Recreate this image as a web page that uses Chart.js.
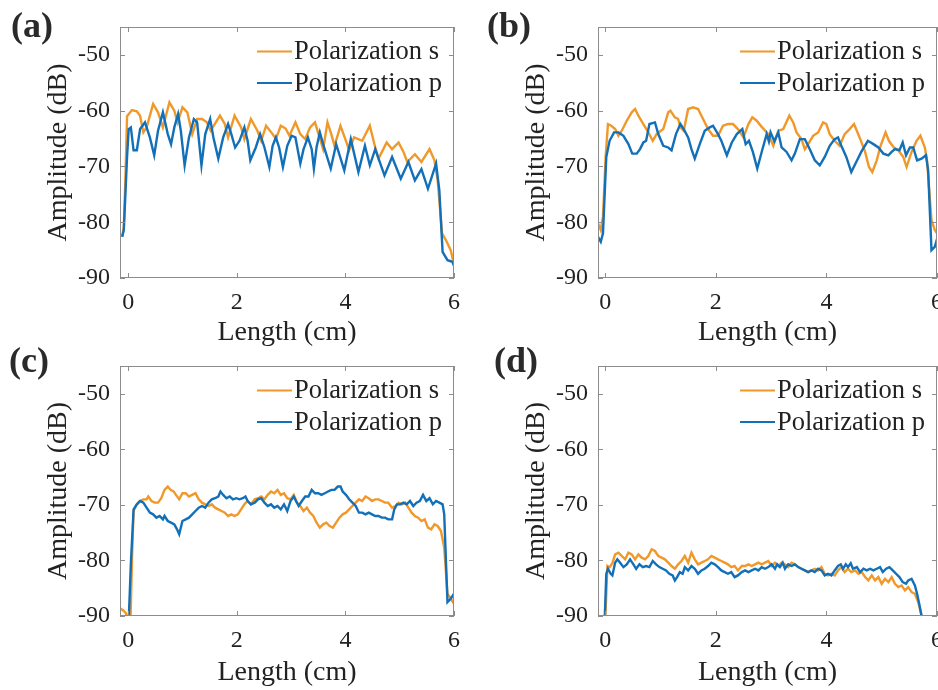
<!DOCTYPE html>
<html>
<head>
  <meta charset="utf-8"/>
  <script src="https://cdn.jsdelivr.net/npm/chart.js@4.4.1/dist/chart.umd.min.js"></script>
  <style>
    body { margin: 0; width: 938px; height: 690px; overflow: hidden; background: #fff; position: relative; }
    canvas { position: absolute; }
    .tag { position: absolute; font: bold 36px "Liberation Serif", serif; line-height: 1; color: #2a2a2a; }
  </style>
</head>
<body>
  <canvas id="pa" width="470" height="350" style="left:0;top:0"></canvas>
  <canvas id="pb" width="530" height="350" style="left:470px;top:0"></canvas>
  <canvas id="pc" width="470" height="350" style="left:0;top:340px"></canvas>
  <canvas id="pd" width="530" height="350" style="left:470px;top:340px"></canvas>
  <div class="tag" style="left:11px;top:7px">(a)</div>
  <div class="tag" style="left:487px;top:7px">(b)</div>
  <div class="tag" style="left:9px;top:342px">(c)</div>
  <div class="tag" style="left:494px;top:342px">(d)</div>
  <script>
    var seriesNames = ["Polarization s", "Polarization p"];
    var xTickValues = [0, 2, 4, 6];
    var yTickValues = [-90, -80, -70, -60, -50];

    // (a)
    var aLenS = [-0.11, -0.08, -0.05, -0.02, 0.07, 0.16, 0.22, 0.28, 0.34, 0.46, 0.55, 0.64, 0.76, 0.85, 0.91, 1.00, 1.09, 1.18, 1.27, 1.36, 1.45, 1.52, 1.69, 1.78, 1.84, 1.96, 2.08, 2.14, 2.26, 2.38, 2.45, 2.54, 2.66, 2.72, 2.81, 2.90, 2.97, 3.08, 3.17, 3.26, 3.35, 3.44, 3.59, 3.67, 3.74, 3.80, 3.91, 4.01, 4.07, 4.16, 4.31, 4.45, 4.55, 4.61, 4.76, 4.86, 4.98, 5.07, 5.14, 5.28, 5.40, 5.55, 5.64, 5.70, 5.78, 5.85, 5.94, 6.00];
    var aAmpS = [-82.6, -81.0, -72.0, -61.0, -59.9, -60.1, -60.9, -63.9, -63.0, -58.8, -60.3, -63.0, -58.5, -60.0, -62.1, -59.4, -60.3, -64.2, -61.5, -61.5, -62.1, -63.6, -60.9, -62.4, -64.8, -60.9, -63.0, -65.1, -61.5, -63.6, -65.4, -62.7, -64.2, -65.1, -62.7, -63.2, -64.5, -62.1, -64.2, -65.1, -63.0, -62.1, -66.9, -62.1, -64.2, -66.3, -62.7, -65.4, -67.1, -64.8, -65.4, -62.7, -66.6, -68.6, -65.7, -66.9, -65.7, -67.4, -69.2, -67.8, -69.2, -66.9, -68.9, -72.5, -82.0, -83.2, -85.0, -87.6];
    var aLenP = [-0.11, -0.08, -0.02, 0.01, 0.05, 0.10, 0.16, 0.22, 0.31, 0.40, 0.48, 0.55, 0.64, 0.73, 0.79, 0.85, 0.92, 0.97, 1.04, 1.12, 1.21, 1.27, 1.35, 1.42, 1.51, 1.57, 1.66, 1.75, 1.84, 1.90, 1.97, 2.05, 2.14, 2.20, 2.25, 2.35, 2.43, 2.51, 2.60, 2.66, 2.72, 2.78, 2.85, 2.93, 3.01, 3.08, 3.17, 3.23, 3.31, 3.38, 3.42, 3.47, 3.53, 3.59, 3.73, 3.83, 3.98, 4.10, 4.24, 4.36, 4.45, 4.55, 4.72, 4.86, 5.02, 5.16, 5.28, 5.40, 5.52, 5.67, 5.73, 5.79, 5.88, 5.97, 6.00];
    var aAmpP = [-82.6, -81.4, -68.3, -63.3, -63.0, -67.1, -67.1, -63.3, -62.1, -64.8, -68.0, -63.6, -60.3, -64.2, -66.0, -63.0, -60.6, -63.6, -69.8, -64.8, -61.5, -62.1, -69.8, -64.2, -61.5, -64.8, -68.6, -64.8, -62.4, -64.2, -66.6, -65.4, -63.0, -65.4, -68.9, -66.6, -64.2, -66.6, -70.1, -66.3, -64.8, -66.6, -70.1, -66.3, -64.5, -64.8, -69.5, -66.9, -64.8, -66.9, -70.4, -66.5, -63.9, -66.0, -70.4, -66.0, -70.7, -65.1, -71.0, -66.3, -69.8, -66.9, -71.6, -68.3, -72.2, -69.2, -72.5, -70.5, -74.0, -69.5, -74.3, -85.3, -86.8, -87.1, -87.8];

    // (b)
    var bLenS = [-0.13, -0.08, -0.04, 0.01, 0.05, 0.11, 0.18, 0.24, 0.30, 0.39, 0.48, 0.54, 0.60, 0.69, 0.78, 0.86, 0.93, 1.05, 1.14, 1.18, 1.26, 1.32, 1.36, 1.42, 1.50, 1.59, 1.68, 1.77, 1.86, 1.95, 2.04, 2.13, 2.22, 2.31, 2.40, 2.50, 2.59, 2.66, 2.74, 2.83, 2.95, 3.04, 3.13, 3.22, 3.33, 3.40, 3.46, 3.55, 3.61, 3.67, 3.76, 3.85, 3.94, 4.00, 4.06, 4.15, 4.24, 4.33, 4.42, 4.50, 4.60, 4.70, 4.77, 4.83, 4.91, 4.98, 5.07, 5.13, 5.22, 5.30, 5.39, 5.45, 5.54, 5.63, 5.70, 5.78, 5.82, 5.90, 5.96, 6.00];
    var bAmpS = [-80.2, -81.4, -79.0, -68.0, -62.4, -62.7, -63.3, -64.5, -63.6, -61.8, -60.3, -59.7, -60.9, -62.4, -63.9, -65.4, -64.2, -63.3, -60.3, -60.0, -61.2, -61.5, -63.0, -63.6, -59.7, -59.4, -59.7, -61.5, -63.3, -64.5, -64.5, -62.7, -62.4, -62.4, -63.3, -64.8, -62.4, -61.2, -61.8, -62.9, -64.2, -66.3, -63.6, -63.3, -60.9, -62.1, -63.9, -65.1, -66.9, -66.0, -64.5, -63.9, -62.1, -62.4, -64.2, -65.4, -66.3, -64.2, -63.3, -62.4, -64.8, -67.4, -70.1, -71.0, -68.9, -66.3, -63.9, -65.4, -66.6, -67.1, -68.3, -70.1, -67.4, -65.4, -64.5, -66.6, -68.9, -79.6, -81.4, -82.0];
    var bLenP = [-0.13, -0.08, -0.04, 0.02, 0.08, 0.16, 0.24, 0.33, 0.42, 0.49, 0.57, 0.63, 0.69, 0.74, 0.80, 0.90, 0.96, 1.05, 1.14, 1.20, 1.28, 1.36, 1.42, 1.50, 1.56, 1.62, 1.71, 1.80, 1.89, 1.95, 2.04, 2.10, 2.20, 2.29, 2.38, 2.48, 2.54, 2.60, 2.67, 2.75, 2.83, 2.92, 2.96, 2.99, 3.06, 3.13, 3.19, 3.28, 3.37, 3.43, 3.52, 3.61, 3.70, 3.79, 3.88, 3.97, 4.06, 4.15, 4.21, 4.27, 4.36, 4.45, 4.54, 4.63, 4.75, 4.85, 4.94, 5.03, 5.12, 5.18, 5.24, 5.32, 5.38, 5.44, 5.51, 5.57, 5.64, 5.72, 5.80, 5.84, 5.90, 5.96, 6.00];
    var bAmpP = [-82.6, -83.5, -82.0, -68.3, -65.4, -63.9, -63.9, -64.5, -66.0, -67.7, -67.7, -66.9, -65.7, -65.4, -62.4, -62.1, -64.2, -66.3, -66.6, -67.1, -64.2, -62.4, -63.3, -64.8, -66.9, -68.6, -66.0, -63.6, -63.0, -62.7, -64.2, -65.4, -68.0, -65.7, -64.2, -63.3, -66.0, -65.4, -67.4, -70.4, -67.4, -64.2, -65.5, -63.9, -65.5, -63.9, -66.6, -67.4, -68.9, -67.7, -65.1, -65.1, -66.9, -68.9, -69.8, -68.3, -66.3, -65.1, -64.8, -66.3, -68.3, -71.0, -69.2, -67.4, -65.4, -66.0, -66.6, -67.7, -68.0, -67.4, -66.9, -67.1, -65.7, -68.0, -66.6, -66.6, -68.9, -68.6, -68.0, -70.7, -85.0, -84.4, -83.0];

    // (c)
    var cLenS = [-0.15, -0.09, -0.04, 0.00, 0.04, 0.07, 0.10, 0.16, 0.22, 0.28, 0.34, 0.37, 0.43, 0.49, 0.55, 0.61, 0.67, 0.73, 0.78, 0.84, 0.88, 0.94, 1.00, 1.06, 1.12, 1.18, 1.24, 1.30, 1.36, 1.42, 1.48, 1.54, 1.60, 1.66, 1.72, 1.78, 1.84, 1.90, 1.96, 2.02, 2.08, 2.14, 2.20, 2.26, 2.33, 2.39, 2.45, 2.51, 2.57, 2.63, 2.69, 2.75, 2.81, 2.87, 2.93, 2.99, 3.05, 3.11, 3.17, 3.23, 3.29, 3.35, 3.41, 3.47, 3.53, 3.59, 3.65, 3.71, 3.77, 3.83, 3.89, 3.95, 4.01, 4.07, 4.13, 4.19, 4.25, 4.31, 4.37, 4.43, 4.49, 4.55, 4.61, 4.67, 4.73, 4.79, 4.86, 4.92, 4.98, 5.04, 5.10, 5.16, 5.22, 5.28, 5.34, 5.40, 5.46, 5.52, 5.58, 5.64, 5.70, 5.76, 5.82, 5.88, 5.94, 6.00];
    var cAmpS = [-88.6, -89.0, -89.5, -92.0, -92.0, -80.0, -71.1, -69.9, -69.3, -69.0, -69.0, -68.5, -69.3, -69.6, -69.6, -68.8, -67.3, -66.7, -67.3, -67.6, -68.2, -69.0, -67.9, -67.9, -68.5, -68.2, -67.9, -69.0, -69.6, -69.9, -70.2, -69.9, -70.5, -70.8, -71.1, -71.4, -72.0, -71.7, -72.0, -71.7, -70.8, -69.9, -69.3, -69.9, -69.0, -68.8, -68.5, -69.0, -68.2, -67.6, -67.9, -67.3, -68.2, -67.9, -68.8, -69.0, -68.2, -69.6, -70.2, -71.1, -70.5, -71.4, -72.0, -73.2, -74.1, -73.5, -73.2, -73.8, -74.1, -73.2, -72.3, -71.7, -71.4, -70.8, -70.2, -69.6, -69.0, -69.3, -68.5, -68.8, -69.3, -69.0, -69.0, -69.3, -69.6, -69.6, -70.5, -70.2, -69.6, -69.9, -69.6, -70.5, -71.4, -72.0, -72.3, -72.9, -72.6, -74.1, -74.4, -73.5, -73.8, -74.7, -77.7, -86.0, -86.9, -87.8];
    var cLenP = [-0.15, 0.01, 0.05, 0.10, 0.16, 0.22, 0.28, 0.34, 0.40, 0.46, 0.52, 0.58, 0.64, 0.67, 0.73, 0.79, 0.85, 0.90, 0.94, 1.00, 1.06, 1.12, 1.18, 1.24, 1.30, 1.36, 1.42, 1.48, 1.54, 1.60, 1.66, 1.70, 1.75, 1.81, 1.87, 1.93, 1.99, 2.05, 2.11, 2.16, 2.20, 2.26, 2.33, 2.39, 2.45, 2.51, 2.57, 2.63, 2.69, 2.75, 2.81, 2.87, 2.93, 2.99, 3.05, 3.09, 3.14, 3.20, 3.26, 3.32, 3.38, 3.44, 3.50, 3.56, 3.62, 3.68, 3.74, 3.80, 3.86, 3.91, 3.95, 4.01, 4.07, 4.13, 4.19, 4.25, 4.31, 4.37, 4.43, 4.49, 4.55, 4.61, 4.67, 4.73, 4.79, 4.86, 4.90, 4.95, 5.01, 5.07, 5.13, 5.19, 5.25, 5.31, 5.37, 5.43, 5.49, 5.55, 5.61, 5.67, 5.73, 5.79, 5.82, 5.88, 5.94, 6.00];
    var cAmpP = [-92.0, -91.0, -80.6, -70.8, -69.9, -69.3, -69.6, -70.5, -71.4, -71.7, -72.3, -72.0, -72.6, -72.0, -72.9, -73.2, -73.5, -74.4, -75.3, -72.9, -72.6, -72.3, -71.7, -71.1, -70.5, -70.2, -70.5, -69.6, -69.0, -68.8, -68.5, -67.6, -68.2, -68.8, -68.5, -69.0, -68.8, -69.0, -68.8, -68.5, -69.3, -69.9, -69.6, -69.0, -68.8, -69.6, -70.2, -69.9, -70.5, -70.2, -70.8, -69.9, -71.1, -69.3, -68.5, -69.3, -70.2, -69.3, -68.5, -68.5, -67.3, -67.9, -67.9, -68.2, -67.9, -67.6, -67.3, -67.3, -66.7, -66.7, -67.6, -68.2, -69.0, -69.6, -70.2, -71.4, -71.4, -71.7, -71.4, -71.7, -72.0, -72.0, -72.3, -72.3, -72.6, -72.6, -70.8, -69.9, -69.9, -69.6, -69.9, -69.3, -70.2, -69.6, -69.3, -68.2, -69.3, -68.8, -69.9, -69.3, -69.6, -69.9, -71.7, -87.5, -86.9, -86.0];

    // (d)
    var dLenS = [0.00, 0.04, 0.08, 0.13, 0.18, 0.24, 0.30, 0.36, 0.42, 0.48, 0.54, 0.60, 0.66, 0.72, 0.78, 0.84, 0.90, 0.96, 1.02, 1.08, 1.14, 1.20, 1.26, 1.32, 1.38, 1.44, 1.50, 1.56, 1.62, 1.68, 1.74, 1.80, 1.86, 1.92, 1.98, 2.04, 2.10, 2.16, 2.22, 2.28, 2.34, 2.40, 2.47, 2.53, 2.59, 2.65, 2.71, 2.77, 2.83, 2.89, 2.95, 3.01, 3.07, 3.13, 3.19, 3.25, 3.31, 3.37, 3.43, 3.49, 3.55, 3.61, 3.67, 3.73, 3.79, 3.85, 3.91, 3.97, 4.03, 4.09, 4.15, 4.21, 4.27, 4.33, 4.39, 4.45, 4.52, 4.58, 4.64, 4.70, 4.76, 4.82, 4.88, 4.94, 5.00, 5.06, 5.12, 5.18, 5.24, 5.30, 5.36, 5.42, 5.48, 5.54, 5.60, 5.66, 5.72, 5.76];
    var dAmpS = [-91.0, -81.0, -81.2, -80.5, -78.9, -78.6, -79.2, -79.8, -78.6, -78.9, -79.8, -78.9, -79.5, -79.8, -79.2, -78.0, -78.3, -79.2, -79.5, -79.8, -80.4, -81.0, -81.5, -80.7, -80.1, -79.2, -80.4, -78.6, -79.8, -80.7, -80.4, -80.1, -79.8, -79.2, -79.5, -79.8, -80.1, -80.4, -80.7, -81.2, -81.0, -81.8, -81.0, -81.0, -80.7, -81.0, -80.7, -80.4, -80.7, -80.4, -80.1, -81.0, -80.4, -81.0, -80.4, -80.7, -81.2, -80.4, -80.7, -81.2, -81.5, -81.8, -82.1, -81.8, -81.5, -81.8, -81.2, -82.4, -82.7, -82.4, -82.7, -81.8, -81.2, -82.1, -81.5, -82.1, -81.8, -82.4, -82.1, -83.0, -83.6, -82.7, -83.6, -83.0, -84.2, -83.3, -83.9, -83.0, -84.2, -84.8, -84.5, -85.4, -84.8, -85.7, -86.0, -87.5, -89.9, -91.0];
    var dLenP = [-0.01, 0.02, 0.05, 0.10, 0.13, 0.18, 0.22, 0.27, 0.33, 0.39, 0.45, 0.51, 0.56, 0.62, 0.68, 0.74, 0.80, 0.86, 0.92, 0.98, 1.04, 1.10, 1.16, 1.22, 1.26, 1.30, 1.35, 1.40, 1.44, 1.50, 1.56, 1.62, 1.68, 1.74, 1.80, 1.86, 1.92, 1.98, 2.04, 2.10, 2.16, 2.22, 2.28, 2.34, 2.40, 2.47, 2.53, 2.59, 2.65, 2.71, 2.77, 2.83, 2.89, 2.95, 3.01, 3.07, 3.11, 3.16, 3.21, 3.25, 3.31, 3.37, 3.43, 3.49, 3.55, 3.61, 3.67, 3.73, 3.79, 3.85, 3.91, 3.97, 4.03, 4.09, 4.15, 4.21, 4.26, 4.30, 4.35, 4.39, 4.44, 4.48, 4.55, 4.61, 4.67, 4.73, 4.79, 4.85, 4.91, 4.97, 5.02, 5.08, 5.14, 5.20, 5.26, 5.32, 5.38, 5.44, 5.48, 5.54, 5.60, 5.64, 5.69, 5.74];
    var dAmpP = [-91.0, -82.4, -81.5, -82.4, -82.7, -80.4, -79.8, -80.4, -81.2, -80.7, -79.8, -80.7, -81.5, -80.7, -81.2, -81.0, -81.2, -80.1, -80.7, -81.2, -81.5, -81.8, -82.4, -82.7, -83.6, -83.0, -82.1, -82.4, -81.2, -81.8, -81.0, -81.5, -82.4, -81.8, -81.5, -81.0, -80.4, -80.7, -81.2, -81.8, -82.1, -82.4, -82.1, -83.0, -82.7, -82.1, -81.8, -82.1, -81.8, -81.5, -81.8, -81.2, -81.5, -81.2, -80.7, -81.5, -80.7, -81.2, -80.4, -81.5, -80.7, -81.0, -80.7, -81.2, -81.5, -81.8, -82.1, -81.8, -82.1, -81.5, -81.8, -82.7, -82.4, -82.7, -81.8, -81.0, -80.7, -81.5, -80.7, -81.2, -80.5, -81.5, -81.2, -82.1, -81.5, -81.8, -81.5, -81.8, -81.5, -81.2, -82.1, -81.5, -81.2, -81.8, -82.4, -83.0, -83.9, -84.2, -83.6, -83.3, -84.5, -86.0, -88.4, -91.0];

    var sColor = "#F0982A";
    var pColor = "#1270B8";
    var textColor = "#222222";
    var frameColor = "#8c8c8c";
    var serif = '"Liberation Serif", "Times New Roman", serif';

    function pairs(xs, ys) {
      return xs.map(function(x, i) { return { x: x, y: ys[i] }; });
    }

    // MATLAB-style box with inward ticks on all four sides
    var frameTicks = {
      id: "frameTicks",
      afterDatasetsDraw: function(chart) {
        var ctx = chart.ctx, a = chart.chartArea;
        var xs = chart.scales.x, ys = chart.scales.y;
        ctx.save();
        ctx.strokeStyle = frameColor;
        ctx.lineWidth = 1;
        ctx.strokeRect(a.left + 0.5, a.top + 0.5, a.right - a.left - 1, a.bottom - a.top - 1);
        ctx.beginPath();
        xs.ticks.forEach(function(t) {
          var px = Math.round(xs.getPixelForValue(t.value)) + 0.5;
          ctx.moveTo(px, a.bottom); ctx.lineTo(px, a.bottom - 5);
          ctx.moveTo(px, a.top); ctx.lineTo(px, a.top + 5);
        });
        ys.ticks.forEach(function(t) {
          var py = Math.round(ys.getPixelForValue(t.value)) + 0.5;
          ctx.moveTo(a.left, py); ctx.lineTo(a.left + 5, py);
          ctx.moveTo(a.right, py); ctx.lineTo(a.right - 5, py);
        });
        ctx.stroke();
        ctx.restore();
      }
    };

    // legend inside the top right corner of the axes, no box
    var insideLegend = {
      id: "insideLegend",
      afterDraw: function(chart) {
        var ctx = chart.ctx, a = chart.chartArea;
        ctx.save();
        ctx.font = "26.5px " + serif;
        ctx.textBaseline = "middle";
        chart.data.datasets.forEach(function(ds, i) {
          var yy = a.top + 24.5 + i * 31.5;
          ctx.strokeStyle = ds.borderColor;
          ctx.lineWidth = 2.2;
          ctx.beginPath();
          ctx.moveTo(a.right - 197, yy);
          ctx.lineTo(a.right - 162, yy);
          ctx.stroke();
          ctx.fillStyle = textColor;
          ctx.fillText(ds.label, a.right - 160, yy + 1);
        });
        ctx.restore();
      }
    };

    function makePanel(id, lenS, ampS, lenP, ampP, xMin, box) {
      new Chart(document.getElementById(id), {
        type: "line",
        data: {
          datasets: [
            { label: seriesNames[0], data: pairs(lenS, ampS), borderColor: sColor, order: 1 },
            { label: seriesNames[1], data: pairs(lenP, ampP), borderColor: pColor, order: 0 }
          ]
        },
        options: {
          responsive: false,
          animation: false,
          elements: {
            point: { radius: 0 },
            line: { borderWidth: 2.4, tension: 0, fill: false }
          },
          layout: { padding: { top: box.top, left: 0, right: box.right, bottom: 0 } },
          plugins: { legend: { display: false }, tooltip: { enabled: false } },
          scales: {
            x: {
              type: "linear", min: xMin, max: 6,
              afterFit: function(s) { s.height = box.xh; },
              afterBuildTicks: function(s) { s.ticks = xTickValues.map(function(v) { return { value: v }; }); },
              grid: { display: false, drawTicks: false },
              border: { display: false },
              ticks: { color: textColor, font: { family: serif, size: 24 }, padding: 10, maxRotation: 0 },
              title: { display: true, text: "Length (cm)", color: textColor, font: { family: serif, size: 28 }, padding: { top: 0, bottom: 1 } }
            },
            y: {
              type: "linear", min: -90, max: -45,
              afterFit: function(s) { s.width = box.yw; },
              afterBuildTicks: function(s) { s.ticks = yTickValues.map(function(v) { return { value: v }; }); },
              grid: { display: false, drawTicks: false },
              border: { display: false },
              ticks: { color: textColor, font: { family: serif, size: 24 }, padding: 10 },
              title: { display: true, text: "Amplitude (dB)", color: textColor, font: { family: serif, size: 28 }, padding: { top: box.yt, bottom: 0 } }
            }
          }
        },
        plugins: [frameTicks, insideLegend]
      });
    }

    makePanel("pa", aLenS, aAmpS, aLenP, aAmpP, -0.15, { top: 27, right: 10, yw: 120, xh: 72, yt: 42 });
    makePanel("pb", bLenS, bAmpS, bLenP, bAmpP, -0.13, { top: 27, right: 63, yw: 128, xh: 72, yt: 50 });
    makePanel("pc", cLenS, cAmpS, cLenP, cAmpP, -0.15, { top: 26, right: 10, yw: 120, xh: 74, yt: 42 });
    makePanel("pd", dLenS, dAmpS, dLenP, dAmpP, -0.13, { top: 26, right: 63, yw: 128, xh: 74, yt: 50 });
  </script>
</body>
</html>
